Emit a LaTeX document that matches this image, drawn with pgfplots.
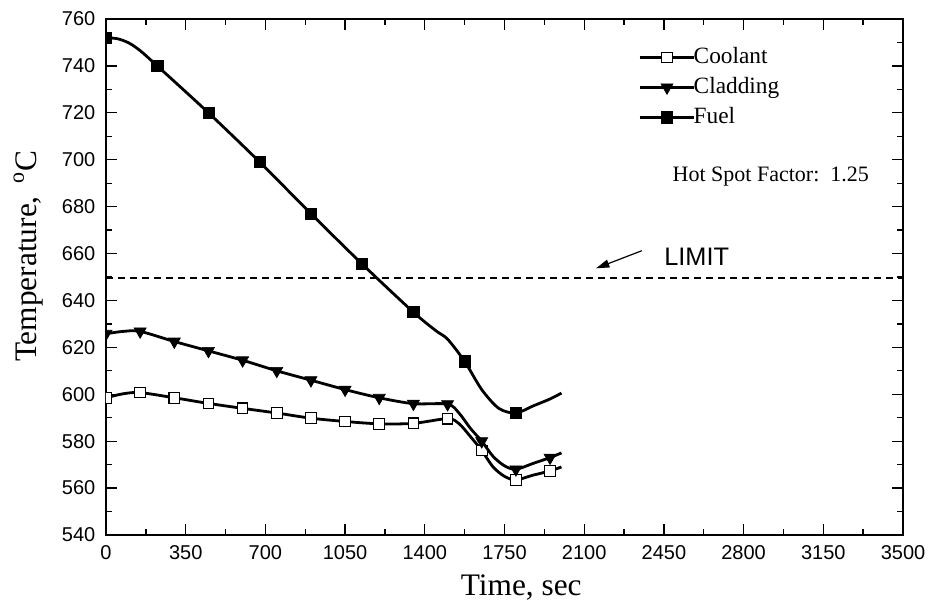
\documentclass[border=0pt]{standalone}
\usepackage{fontspec}
\setmainfont{Liberation Serif}
\newfontfamily\arialfont{Liberation Sans}
\usepackage{pgfplots}
\pgfplotsset{compat=1.18}
\usetikzlibrary{arrows.meta}
\begin{document}
\begin{tikzpicture}
\begin{axis}[
 name=ax,
 scale only axis, width=597.75pt, height=387pt,
 xmin=0, xmax=3500, ymin=540, ymax=760,
 xtick={0,350,...,3500}, ytick={540,560,...,760},
 minor x tick num=1, minor y tick num=1,
 tick align=inside,
 major tick length=8pt, minor tick length=4.5pt,
 axis line style={line width=1.2pt},
 major tick style={line width=1pt, black},
 minor tick style={line width=1pt, black},
 tick label style={font=\arialfont\fontsize{15}{18}\selectfont},
 /pgf/number format/assume math mode=true,
 /pgf/number format/set thousands separator={},
 xticklabel style={yshift=-4pt},
 yticklabel style={xshift=-4.5pt},
 xlabel={Time, sec},
 ylabel={Temperature,\ \,\textsuperscript{o}C},
 label style={font=\fontsize{23.5}{28}\selectfont},
 xlabel style={at={(axis description cs:0.521,-0.1163)}, anchor=base},
 ylabel style={at={(axis description cs:-0.0878,0.54)}, anchor=base},
 clip marker paths=true,
 legend style={draw=none, fill=none, at={(axis description cs:0.6675,0.95)}, anchor=north west,
   font=\fontsize{17.5}{20}\selectfont, inner sep=0pt, row sep=4pt,
   nodes={inner sep=1pt, text height=12.5pt, text depth=4pt},
   /tikz/every odd column/.append style={column sep=-2.5pt}},
 legend cell align=left,
 legend image code/.code={\draw[#1, mark indices={2}] plot coordinates {(0pt,0pt) (20.5pt,0pt) (41pt,0pt)};},
]
\addplot[black, line width=1.4pt, dash pattern=on 5.25pt off 3.75pt, forget plot] coordinates {(0,649.5) (3500,649.5)};

\addplot[black, line width=2.1pt, smooth, mark=square*, mark size=4pt,
  mark options={fill=white, draw=black, line width=0.8pt, solid},
  mark indices={1,3,4,5,6,7,8,9,10,11,12,15,18,20}] coordinates {
 (0,598.5) (75,600.2) (150,600.7) (300,598.5) (450,596.1) (600,594) (750,592)
 (900,589.8) (1050,588.4) (1200,587.4) (1350,587.6) (1500,589.6) (1550,587.5)
 (1600,582) (1650,576) (1700,569) (1750,565) (1800,563.5) (1875,565.5) (1950,567.3) (2000,569)};
\addlegendentry{Coolant}

\addplot[black, line width=2.1pt, smooth, mark=triangle*, mark size=5.2pt,
  mark options={fill=black, draw=black, line width=0.5pt, rotate=180, solid},
  mark indices={1,3,4,5,6,7,8,9,10,11,12,15,18,20}] coordinates {
 (0,625.8) (75,626.8) (150,626.8) (300,622.5) (450,618.5) (600,614.5) (750,610)
 (900,606) (1050,602) (1200,598.5) (1350,596) (1500,595.8) (1550,592)
 (1600,585.5) (1650,580) (1700,573.5) (1750,569.5) (1800,568) (1875,570.5) (1950,573) (2000,575)};
\addlegendentry{Cladding}

\addplot[black, line width=2.1pt, smooth, mark=square*, mark size=4.2pt,
  mark options={fill=black, draw=black, line width=0.5pt, solid},
  mark indices={1,5,6,7,8,9,10,13,16}] coordinates {
 (0,752) (50,751.6) (100,749.8) (150,746.5) (225,740) (450,720) (675,699) (900,677)
 (1125,655.5) (1350,635) (1450,627) (1500,623.5) (1575,614) (1650,602) (1725,594)
 (1800,592) (1875,595) (1950,598) (2000,600.5)};
\addlegendentry{Fuel}

\draw[line width=0.9pt, -{Triangle[length=10pt,width=6pt]}] (axis cs:2353,661.2) -- (axis cs:2152,653.7);
\node[font=\arialfont\fontsize{19}{22}\selectfont] at (axis cs:2594,658.7) {LIMIT};
\node[anchor=west, font=\fontsize{16.5}{20}\selectfont] at (axis cs:2468,693) {Hot Spot Factor:\ \ 1.25};
\end{axis}
\pgfresetboundingbox
\path (ax.south west) ++(-79.5pt,-52.5pt) rectangle ++(698.25pt,453.75pt);
\end{tikzpicture}
\end{document}
